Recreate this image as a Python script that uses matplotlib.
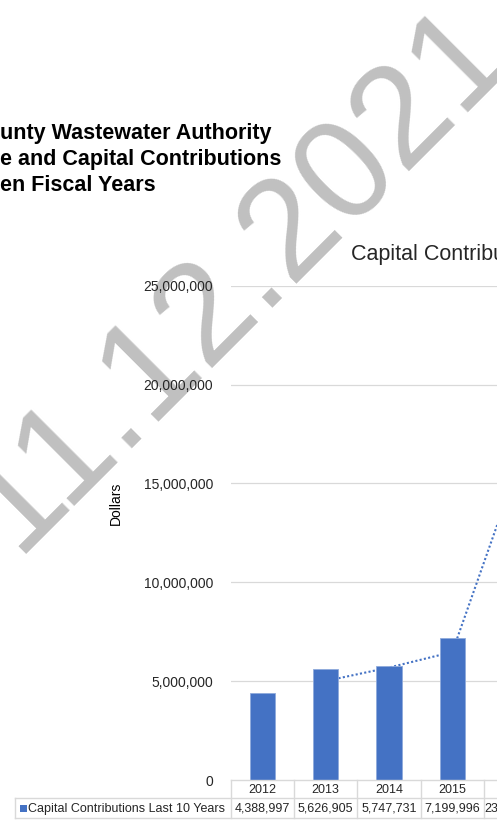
import matplotlib
matplotlib.use("Agg")
import matplotlib.pyplot as plt
from matplotlib.lines import Line2D
from matplotlib.patches import Rectangle
from matplotlib.ticker import FuncFormatter
import pandas as pd

plt.rcParams['font.family'] = ['Liberation Sans', 'DejaVu Sans']

# ---- data -------------------------------------------------------------
years = ["2012", "2013", "2014", "2015", "2016"]
contributions = [4388997, 5626905, 5747731, 7199996, 23900000]
series_name = "Capital Contributions Last 10 Years"
y_ticks = [0, 5000000, 10000000, 15000000, 20000000, 25000000]
report_title = ["unty Wastewater Authority",
                "e and Capital Contributions",
                "en Fiscal Years"]
chart_title = "Capital Contributions"
y_label = "Dollars"
stamp = "11.12.2021"

# ---- layout (pixels) ---------------------------------------------------
W, H = 497, 822
DPI = 100
BAR = "#4472C4"
GRID = "#d9d9d9"
TXT = "#262626"

def fx(x):
    return x / W

def fy(y):
    return 1 - y / H

fig = plt.figure(figsize=(W / DPI, H / DPI), dpi=DPI)
fig.patch.set_facecolor("white")

plot_left, cat_w = 230.7, 63.33
plot_top, plot_bottom = 285.7, 780.0
n_cat = len(years)

ax = fig.add_axes([fx(plot_left), fy(plot_bottom),
                   n_cat * cat_w / W, (plot_bottom - plot_top) / H])
ax.set_facecolor("none")
ax.set_xlim(-0.5, n_cat - 0.5)
ax.set_ylim(0, 25000000)

x = list(range(n_cat))
ax.bar(x, contributions, width=0.4, color=BAR, edgecolor="#8faadc",
       linewidth=0.6, zorder=3)

# two-period moving average trendline
trend = pd.Series(contributions).rolling(2).mean()
ax.plot(x[1:], trend[1:], color=BAR, linewidth=1.5,
        linestyle=(0, (1, 1.1)), zorder=2)

ax.set_yticks(y_ticks)
ax.yaxis.set_major_formatter(FuncFormatter(lambda v, p: f"{int(v):,}"))
ax.tick_params(axis="y", length=0, pad=12.5, labelsize=10, labelcolor=TXT)
ax.set_xticks([])
for s in ax.spines.values():
    s.set_visible(False)
for t in y_ticks[1:]:
    ax.axhline(t, color=GRID, linewidth=0.9, zorder=1)

# axis title
fig.text(fx(116), fy(503), y_label, rotation=90, ha="center", va="center",
         fontsize=10, color="black")

# chart title
fig.text(fx(351.0), fy(259.5), chart_title, ha="left", va="baseline",
         fontsize=15.5, color=TXT)

# report heading
for line, base in zip(report_title, [139.3, 165.0, 191.0]):
    fig.text(fx(0), fy(base), line, ha="left", va="baseline",
             fontsize=15.5, fontweight="bold", color="black")

# ---- data table --------------------------------------------------------
row1, row2, row3 = 780.0, 798.3, 818.3
table_right = plot_left + n_cat * cat_w + 5
lines = [
    ((plot_left, table_right), (row1, row1)),
    ((15, table_right), (row2, row2)),
    ((15, table_right), (row3, row3)),
    ((15, 15), (row2, row3)),
]
for i in range(n_cat + 1):
    xe = plot_left + i * cat_w
    lines.append(((xe, xe), (row1, row3)))
for (xs, ys) in lines:
    fig.add_artist(Line2D([fx(v) for v in xs], [fy(v) for v in ys],
                          color=GRID, linewidth=1.0))

for i, (yr, val) in enumerate(zip(years, contributions)):
    cx = plot_left + (i + 0.5) * cat_w
    fig.text(fx(cx), fy((row1 + row2) / 2 + 0.5), yr, ha="center", va="center",
             fontsize=9, color=TXT)
    fig.text(fx(cx), fy((row2 + row3) / 2 + 0.5), f"{val:,}", ha="center",
             va="center", fontsize=9, color=TXT)

fig.add_artist(Rectangle((fx(19.5), fy(812)), 7 / W, 7 / H,
                         transform=fig.transFigure, color=BAR, linewidth=0))
fig.text(fx(28.3), fy((row2 + row3) / 2 + 0.5), series_name, ha="left",
         va="center", fontsize=9, color=TXT)

# date stamp
fig.text(fx(264.4), fy(304.6), stamp, rotation=45, rotation_mode="anchor",
         ha="center", va="baseline", fontsize=103, color="#c0c0c0", zorder=-1)

fig.savefig("out.png", dpi=DPI)
